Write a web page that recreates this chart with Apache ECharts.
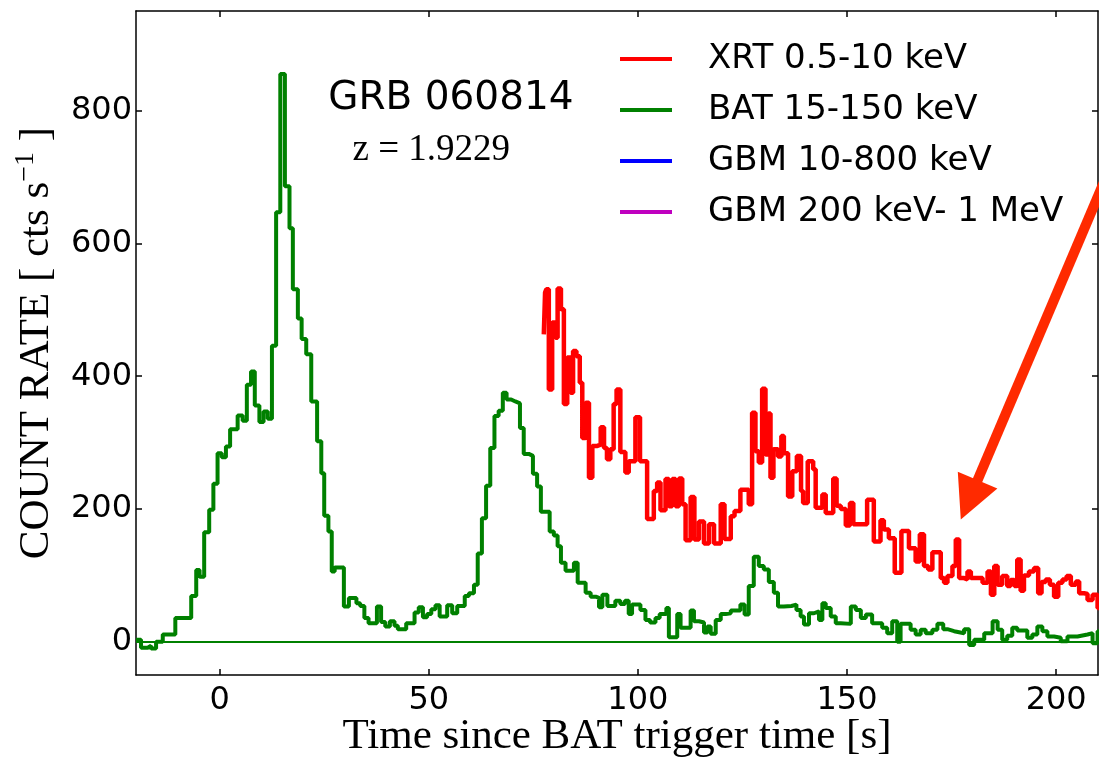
<!DOCTYPE html>
<html>
<head>
<meta charset="utf-8">
<script src="https://cdn.jsdelivr.net/npm/echarts@6/dist/echarts.min.js"></script>
<style>
  html, body { margin: 0; padding: 0; background: #fff; }
  #main { width: 1099px; height: 760px; }
</style>
</head>
<body>
<div id="main"></div>
<script>
// BAT 15-150 keV light curve: left bin edges [s] and count rates
const batT = [-20, -18.8, -17.2, -16.4, -15.2, -13.6, -10.6, -6.8, -5.6, -4.8, -3.7, -2.5, -1.5, -0.5, 0.5, 1.5, 2.5, 4.3, 5.5, 6.5,
  7.5, 8.4, 9.5, 10.5, 11.5, 12.5, 13.5, 14.5, 15.6, 16.7, 17.5, 18.7, 19.6, 20.7, 21.9, 23.3, 24.3, 25.0, 26.0, 26.8,
  27.5, 29.7, 30.9, 32.7, 33.6, 34.6, 35.6, 37.6, 38.6, 39.6, 40.7, 41.8, 42.6, 44.6, 46.6, 47.6, 48.6, 49.6, 50.6, 51.6,
  52.6, 54.4, 55.6, 56.8, 58.6, 59.6, 60.8, 61.7, 62.7, 63.7, 64.7, 65.7, 66.7, 67.7, 68.6, 69.7, 70.7, 71.8, 72.7, 73.9,
  74.9, 75.9, 76.8, 78.9, 79.9, 80.8, 81.6, 82.7, 84.7, 85.6, 87.5, 88.7, 89.9, 90.7, 91.5, 92.7, 94.6, 95.8, 96.9, 97.8,
  98.6, 100.6, 101.8, 102.9, 104.2, 105.2, 106.8, 107.4, 109.4, 110.2, 112.6, 113.4, 114.6, 115.8, 116.6, 117.4, 118.6, 119.8, 121.0, 122.2,
  124.5, 125.5, 126.5, 127.7, 128.9, 130.1, 131.3, 132.5, 133.5, 134.9, 136.7, 137.9, 138.9, 139.7, 140.9, 142.1, 143.3, 144.1, 144.9, 146.1,
  147.3, 148.5, 150.9, 152.1, 153.3, 154.5, 156.0, 158.4, 159.6, 160.8, 162.0, 162.8, 165.2, 166.4, 167.6, 168.8, 170.4, 171.6, 173.0, 174.0,
  175.6, 178.0, 179.2, 180.4, 182.8, 184.8, 186.0, 187.1, 188.3, 189.5, 190.7, 193.1, 194.3, 195.5, 196.7, 197.9, 199.5, 201.1, 202.7, 205.1,
  207.5, 208.7, 209.9];
const batRate = [3, -9, -6, -10, 0, 11, 36, 69, 108, 98, 165, 199, 238, 284, 278, 294, 320, 341, 333, 387,
  407, 356, 331, 347, 336, 446, 647, 855, 686, 623, 531, 487, 456, 433, 362, 302, 254, 190, 166, 106,
  112, 53, 66, 58, 54, 36, 28, 53, 30, 23, 31, 24, 19, 28, 44, 52, 37, 42, 49, 55,
  38, 55, 43, 54, 69, 73, 86, 133, 186, 235, 292, 340, 348, 375, 365, 362, 359, 322, 283, 280,
  253, 234, 196, 166, 160, 144, 119, 107, 119, 89, 74, 68, 66, 52, 71, 54, 62, 57, 62, 42,
  56, 48, 33, 29, 36, 42, 51, 7, 42, 21, 47, 31, 29, 14, 23, 12, 33, 42, 43, 47,
  56, 41, 84, 128, 114, 109, 90, 74, 53, 54, 56, 48, 38, 26, 43, 46, 33, 58, 51, 38,
  28, 27, 53, 48, 36, 41, 28, 21, 13, 31, 0, 27, 18, 11, 18, 13, 18, 27, 19, 16,
  13, 19, -5, 3, 13, 31, 18, 3, 9, 21, 17, 6, 11, 23, 16, 8, 6, 1, 8, 11,
  13, -2, 16];
const batEnd = 210.5;

// XRT 0.5-10 keV light curve: left bin edges [s] and count rates
const xrtT = [77.5, 77.8, 78.1, 78.7, 79.5, 80.3, 80.8, 81.6, 82.3, 83.1, 83.9, 84.5, 85.3, 86.1, 86.7, 87.5, 88.3, 89.1, 90.3, 91.1,
  91.9, 92.6, 93.4, 94.2, 94.9, 95.8, 97.0, 97.8, 99.4, 100.5, 102.2, 103.8, 104.6, 105.4, 106.6, 107.4, 108.2, 109.0, 109.8, 110.6,
  111.4, 112.6, 113.5, 114.6, 115.8, 117.0, 118.2, 119.8, 120.7, 122.2, 123.1, 124.5, 126.5, 127.3, 128.1, 128.9, 129.7, 130.5, 131.2, 131.7,
  132.4, 133.5, 134.3, 134.9, 135.9, 136.9, 138.0, 139.0, 139.5, 140.6, 141.9, 142.5, 144.1, 144.9, 146.7, 147.5, 148.5, 149.7, 150.7, 151.5,
  154.8, 156.4, 158.0, 158.8, 160.0, 161.4, 163.0, 164.8, 166.4, 167.4, 168.4, 169.4, 170.4, 172.4, 173.2, 174.0, 175.2, 176.0, 176.8, 178.0,
  178.8, 179.6, 182.4, 183.6, 184.4, 185.2, 186.0, 187.1, 188.3, 189.1, 190.0, 190.7, 191.5, 192.3, 193.5, 194.7, 195.7, 196.5, 197.5, 198.5,
  199.5, 200.5, 201.5, 202.5, 203.5, 204.7, 205.5, 206.7, 207.5, 208.7, 209.9];
const xrtRate = [463, 526, 531, 380, 481, 458, 532, 501, 358, 428, 375, 438, 430, 390, 307, 360, 247, 295, 297, 323,
  292, 275, 290, 358, 380, 286, 255, 272, 338, 272, 185, 227, 240, 198, 245, 204, 245, 204, 246, 207,
  153, 218, 154, 181, 148, 177, 148, 207, 155, 189, 197, 229, 207, 345, 287, 270, 381, 282, 344, 247,
  290, 279, 310, 284, 219, 257, 280, 227, 209, 272, 260, 202, 222, 194, 246, 205, 200, 175, 209, 177,
  214, 151, 183, 169, 156, 104, 167, 141, 121, 162, 114, 109, 135, 96, 89, 99, 114, 154, 96, 94,
  106, 96, 89, 106, 71, 114, 86, 99, 84, 93, 84, 124, 77, 100, 106, 111, 73, 90, 94, 86,
  68, 89, 94, 99, 86, 91, 73, 72, 63, 71, 51];
const xrtEnd = 210.5;

const xTicks = [0, 50, 100, 150, 200];
const yTicks = [0, 200, 400, 600, 800];

const seriesNames = ['XRT 0.5-10 keV', 'BAT 15-150 keV', 'GBM 10-800 keV', 'GBM 200 keV- 1 MeV'];
const seriesColors = ['#ff0000', '#008000', '#0000ff', '#bf00bf'];

// annotation anchors in data coordinates
const arrowTail = [213.3, 720];
const arrowTip = [177.2, 184];
const titlePos = [55.3, 818];
const zPos = [50.6, 740];

function steps(ts, vs, end) {
  const pts = ts.map((t, i) => [t, vs[i]]);
  pts.push([end, vs[vs.length - 1]]);
  return pts;
}

const sansFont = 'DejaVu Sans';
const serifFont = 'Liberation Serif';

const chart = echarts.init(document.getElementById('main'));

const axisLineStyle = { color: '#000', width: 1.5 };

const option = {
  animation: false,
  backgroundColor: '#fff',
  color: seriesColors,
  grid: { left: 136, right: 1, top: 11, bottom: 85, outerBoundsMode: 'none', containLabel: false },
  legend: {
    orient: 'vertical',
    left: 620,
    top: 39,
    padding: 0,
    itemGap: 11,
    icon: 'rect',
    itemWidth: 52,
    itemHeight: 4,
    data: seriesNames,
    textStyle: {
      fontFamily: sansFont,
      fontSize: 34,
      lineHeight: 40,
      color: '#000',
      padding: [0, 0, 0, 31]
    }
  },
  xAxis: [{
    type: 'value',
    min: -20,
    max: 210,
    position: 'bottom',
    name: 'Time since BAT trigger time [s]',
    nameLocation: 'middle',
    nameGap: 40,
    nameMoveOverlap: false,
    nameTextStyle: { fontFamily: serifFont, fontSize: 43, color: '#000' },
    axisLine: { show: true, onZero: false, lineStyle: axisLineStyle },
    axisTick: { show: true, inside: true, length: 6, customValues: xTicks, lineStyle: axisLineStyle },
    axisLabel: { customValues: xTicks, fontFamily: sansFont, fontSize: 32, color: '#000', margin: 10 },
    splitLine: { show: false }
  }, {
    type: 'value',
    min: -20,
    max: 210,
    position: 'top',
    axisLine: { show: true, onZero: false, lineStyle: axisLineStyle },
    axisTick: { show: true, inside: true, length: 6, customValues: xTicks, lineStyle: axisLineStyle },
    axisLabel: { show: false },
    splitLine: { show: false }
  }],
  yAxis: [{
    type: 'value',
    min: -50,
    max: 950,
    position: 'left',
    name: '{a|COUNT RATE [ cts s}{b|−1}{a| ]}',
    nameLocation: 'middle',
    nameRotate: 90,
    nameGap: 74,
    nameTextStyle: {
      color: '#000',
      rich: {
        a: { fontFamily: serifFont, fontSize: 43, lineHeight: 50, color: '#000' },
        b: { fontFamily: serifFont, fontSize: 28, lineHeight: 50, verticalAlign: 'top', color: '#000' }
      }
    },
    axisLine: { show: true, onZero: false, lineStyle: axisLineStyle },
    axisTick: { show: true, inside: true, length: 6, customValues: yTicks, lineStyle: axisLineStyle },
    axisLabel: { customValues: yTicks, fontFamily: sansFont, fontSize: 32, color: '#000', margin: 4 },
    splitLine: { show: false }
  }, {
    type: 'value',
    min: -50,
    max: 950,
    position: 'right',
    axisLine: { show: true, onZero: false, lineStyle: axisLineStyle },
    axisTick: { show: true, inside: true, length: 6, customValues: yTicks, lineStyle: axisLineStyle },
    axisLabel: { show: false },
    splitLine: { show: false }
  }],
  series: [
    {
      name: seriesNames[0],
      type: 'line',
      step: 'end',
      showSymbol: false,
      data: steps(xrtT, xrtRate, xrtEnd),
      lineStyle: { color: seriesColors[0], width: 4.5 },
      z: 3
    },
    {
      name: seriesNames[1],
      type: 'line',
      step: 'end',
      showSymbol: false,
      data: steps(batT, batRate, batEnd),
      lineStyle: { color: seriesColors[1], width: 4 },
      z: 2,
      markLine: {
        silent: true,
        symbol: 'none',
        label: { show: false },
        lineStyle: { color: seriesColors[1], width: 2, type: 'solid' },
        data: [{ yAxis: 0 }]
      }
    },
    { name: seriesNames[2], type: 'line', data: [], lineStyle: { color: seriesColors[2], width: 4 } },
    { name: seriesNames[3], type: 'line', data: [], lineStyle: { color: seriesColors[3], width: 4 } }
  ]
};

chart.setOption(option);

// annotations: title text and red arrow, placed from data coordinates
const toPx = p => chart.convertToPixel({ xAxisIndex: 0, yAxisIndex: 0 }, p);
const tail = toPx(arrowTail);
const tip = toPx(arrowTip);
const dx = tip[0] - tail[0], dy = tip[1] - tail[1];
const len = Math.sqrt(dx * dx + dy * dy);
const ux = dx / len, uy = dy / len;
const headLen = 43, headHalf = 21.5;
const base = [tip[0] - ux * headLen, tip[1] - uy * headLen];
const t1 = toPx(titlePos);
const z1 = toPx(zPos);

chart.setOption({
  graphic: [
    {
      type: 'line',
      shape: { x1: tail[0], y1: tail[1], x2: base[0] + ux * 4, y2: base[1] + uy * 4 },
      style: { stroke: '#ff2a00', lineWidth: 10 },
      z: 10
    },
    {
      type: 'polygon',
      shape: {
        points: [
          tip,
          [base[0] - uy * headHalf, base[1] + ux * headHalf],
          [base[0] + uy * headHalf, base[1] - ux * headHalf]
        ]
      },
      style: { fill: '#ff2a00' },
      z: 10
    },
    {
      type: 'text',
      x: t1[0],
      y: t1[1],
      style: {
        text: 'GRB 060814',
        font: '39px "DejaVu Sans"',
        fill: '#000',
        align: 'center',
        verticalAlign: 'middle'
      },
      z: 10
    },
    {
      type: 'text',
      x: z1[0],
      y: z1[1],
      style: {
        text: 'z = 1.9229',
        font: '37px "Liberation Serif"',
        fill: '#000',
        align: 'center',
        verticalAlign: 'middle'
      },
      z: 10
    }
  ]
});
</script>
</body>
</html>
